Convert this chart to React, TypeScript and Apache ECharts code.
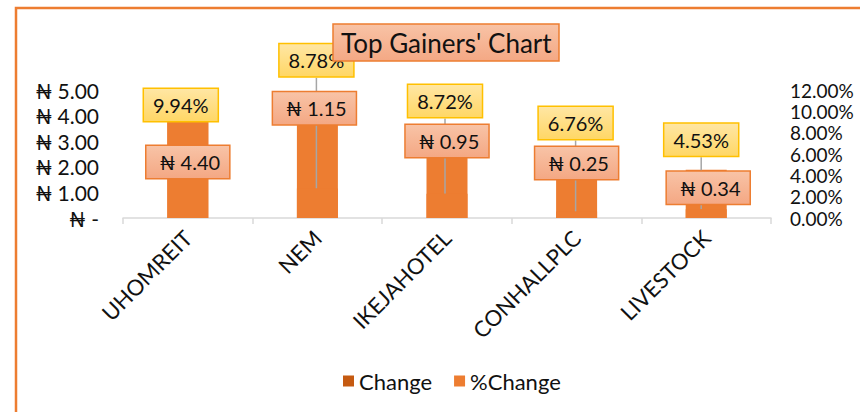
import React, { useEffect, useRef } from 'react';
import * as echarts from 'echarts';

const categories = ['UHOMREIT', 'NEM', 'IKEJAHOTEL', 'CONHALLPLC', 'LIVESTOCK'];
const changeValues = [4.4, 1.15, 0.95, 0.25, 0.34];
const pctChangeValues = [9.94, 8.78, 8.72, 6.76, 4.53];
const leftAxis = { min: 0, max: 5, interval: 1 };
const rightAxis = { min: 0, max: 12, interval: 2 };

// label placement relative to the %Change bar top (layout only)
const pctLabelShift = [[-7, -7], [-1, -64], [-2, -24], [-1, -23], [-5, -30]];
const nairaLabelShift = [[0, 50], [-3, -16], [0, 16], [0, 17], [2, 18]];

const FONT = "Lato, 'Noto Sans', 'DejaVu Sans', sans-serif";
const BAR = '#ED7D31';

const grad = (a: string, b: string) =>
  new echarts.graphic.LinearGradient(0, 0, 0, 1, [
    { offset: 0, color: a },
    { offset: 1, color: b },
  ]);

export default function App() {
  const ref = useRef<HTMLDivElement>(null);
  useEffect(() => {
    if (!ref.current) return;
    const chart = echarts.init(ref.current, undefined, { renderer: 'svg' });
    const place = (shift: number[][]) => (p: any) => {
      const i = p.dataIndex;
      const pt = chart.convertToPixel({ seriesIndex: 1 }, [i, pctChangeValues[i]]) as number[];
      return {
        x: pt[0] + shift[i][0],
        y: pt[1] + shift[i][1],
        align: 'center',
        verticalAlign: 'middle',
      };
    };
    chart.setOption({
      animation: false,
      textStyle: { fontFamily: FONT },
      title: {
        text: "Top Gainers' Chart",
        left: 333,
        top: 24,
        padding: [3, 8, 3, 8],
        backgroundColor: grad('#F8C3A6', '#F4A884'),
        borderColor: '#ED7D31',
        borderWidth: 1.5,
        textStyle: { fontFamily: FONT, fontSize: 26, fontWeight: 'normal', color: '#111', lineHeight: 31 },
      },
      graphic: [
        {
          type: 'rect',
          shape: { x: 16, y: 8, width: 900, height: 450 },
          style: { fill: 'none', stroke: '#ED7D31', lineWidth: 2.5 },
          silent: true,
        },
      ],
      legend: {
        top: 365,
        left: 338,
        itemWidth: 11,
        itemHeight: 11,
        itemGap: 22,
        icon: 'rect',
        textStyle: { fontFamily: FONT, fontSize: 22, color: '#111' },
        data: ['Change', '%Change'],
      },
      grid: { left: 123, right: 89, top: 90, bottom: 194, containLabel: false },
      xAxis: {
        type: 'category',
        data: categories,
        axisLine: { lineStyle: { color: '#D9D9D9', width: 1.5 } },
        axisTick: { show: true, length: 6, lineStyle: { color: '#D9D9D9', width: 1.5 } },
        axisLabel: { rotate: 45, fontSize: 22, color: '#111', fontFamily: FONT, margin: 16 },
      },
      yAxis: [
        {
          type: 'value',
          ...leftAxis,
          splitLine: { show: false },
          axisLine: { show: false },
          axisTick: { show: false },
          axisLabel: {
            fontSize: 21,
            lineHeight: 22,
            color: '#111',
            fontFamily: FONT,
            margin: 24,
            formatter: (v: number) => (v === 0 ? '₦ -' : '₦ ' + v.toFixed(2)),
          },
        },
        {
          type: 'value',
          ...rightAxis,
          splitLine: { show: false },
          axisLine: { show: false },
          axisTick: { show: false },
          axisLabel: {
            fontSize: 19,
            lineHeight: 19,
            color: '#111',
            fontFamily: FONT,
            margin: 19,
            formatter: (v: number) => v.toFixed(2) + '%',
          },
        },
      ],
      series: [
        {
          name: 'Change',
          type: 'bar',
          yAxisIndex: 0,
          data: changeValues.map((v) => ({ value: v, itemStyle: { color: BAR } })),
          barWidth: 41,
          barGap: '-100%',
          itemStyle: { color: '#C55A11' },
          z: 3,
          label: {
            show: true,
            position: 'top',
            formatter: (p: any) => pctChangeValues[p.dataIndex].toFixed(2) + '%',
            fontFamily: FONT,
            fontSize: 20,
            lineHeight: 22,
            color: '#111',
            padding: [5, 9, 5, 9],
            backgroundColor: grad('#FFE6A3', '#FFD766'),
            borderColor: '#FFC000',
            borderWidth: 1.5,
          },
          labelLine: { show: true, lineStyle: { color: '#A6A6A6', width: 1.5 } },
          labelLayout: place(pctLabelShift),
        },
        {
          name: '%Change',
          type: 'bar',
          yAxisIndex: 1,
          data: pctChangeValues,
          barWidth: 41,
          barGap: '-100%',
          itemStyle: { color: BAR },
          z: 1,
        },
        {
          name: 'nairaLabels',
          type: 'bar',
          yAxisIndex: 1,
          data: pctChangeValues,
          barWidth: 41,
          barGap: '-100%',
          itemStyle: { color: 'rgba(0,0,0,0)' },
          silent: true,
          legendHoverLink: false,
          z: 5,
          label: {
            show: true,
            position: 'insideTop',
            formatter: (p: any) => '₦ ' + changeValues[p.dataIndex].toFixed(2),
            fontFamily: FONT,
            fontSize: 20,
            lineHeight: 22,
            color: '#111',
            padding: [5, 9, 5, 13],
            backgroundColor: grad('#F8C3A6', '#F4A884'),
            borderColor: '#ED7D31',
            borderWidth: 1.5,
          },
          labelLayout: place(nairaLabelShift),
        },
      ],
    });
    return () => chart.dispose();
  }, []);
  return (
    <div
      ref={ref}
      style={{ position: 'fixed', left: 0, top: 0, width: 860, height: 412, background: '#fff' }}
    />
  );
}
